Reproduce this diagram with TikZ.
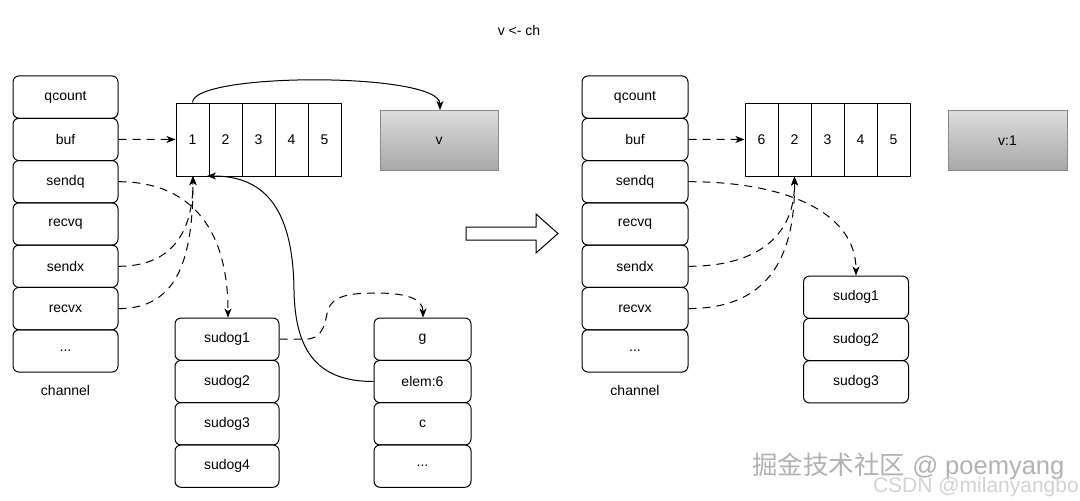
\documentclass[tikz,border=0pt]{standalone}
\usepackage{fontspec}
\setmainfont{Liberation Sans}
\newfontfamily\cjkfont{Noto Sans CJK SC}
\usetikzlibrary{arrows.meta}
\definecolor{vtop}{HTML}{DCDCDC}
\definecolor{vbot}{HTML}{A8A8A8}
\definecolor{vborder}{HTML}{8A8A8A}
\begin{document}
\begin{tikzpicture}[x=1pt,y=-1pt,
  every node/.style={font=\fontsize{14}{16}\selectfont, inner sep=0pt},
  field/.style={draw, rounded corners=6pt, line width=1pt, minimum width=105pt, minimum height=42.3pt},
  sudog/.style={draw, rounded corners=6pt, line width=1pt, minimum width=104pt, minimum height=42.3pt},
  gfield/.style={draw, rounded corners=6pt, line width=1pt, minimum width=97pt, minimum height=42.3pt},
  cell/.style={draw, line width=1pt, minimum width=33pt, minimum height=73pt},
  valbox/.style={draw=vborder, line width=1pt, top color=vtop, bottom color=vbot, minimum width=118pt, minimum height=60pt},
  dsh/.style={line width=1pt, dash pattern=on 8pt off 6pt, -{Stealth[length=9pt,width=7pt,inset=2.5pt]}},
  sld/.style={line width=1pt, -{Stealth[length=9pt,width=7pt,inset=2.5pt]}},
  lbl/.style={font=\fontsize{14}{16}\selectfont}
]
\useasboundingbox (0,0) rectangle (1080,501);

% title
\node[lbl] (title) at (519,30) {v <- ch};

% ---------------- left panel ----------------
\node[field] (lq) at (65.5,97.1) {qcount};
\node[field] (lbuf) at (65.5,139.4) {buf};
\node[field] (lsq) at (65.5,181.7) {sendq};
\node[field] (lrq) at (65.5,224.0) {recvq};
\node[field] (lsx) at (65.5,266.3) {sendx};
\node[field] (lrx) at (65.5,308.6) {recvx};
\node[field] (ldots) at (65.5,350.9) {...};
\node[lbl] (lch) at (65.5,390) {channel};

\node[cell] (la1) at (192.5,139.5) {1};
\node[cell] (la2) at (225.5,139.5) {2};
\node[cell] (la3) at (258.5,139.5) {3};
\node[cell] (la4) at (291.5,139.5) {4};
\node[cell] (la5) at (324.5,139.5) {5};

\node[valbox] (lv) at (439,140.5) {v};

\node[sudog] (ls1) at (227,339.2) {sudog1};
\node[sudog] (ls2) at (227,381.5) {sudog2};
\node[sudog] (ls3) at (227,423.8) {sudog3};
\node[sudog] (ls4) at (227,466.1) {sudog4};

\node[gfield] (gg) at (422.5,339.2) {g};
\node[gfield] (ge) at (422.5,381.5) {elem:6};
\node[gfield] (gc) at (422.5,423.8) {c};
\node[gfield] (gd) at (422.5,466.1) {...};

\coordinate (la1b) at (193,176);
\coordinate (la1br) at (207,176);

\draw[sld] (la1.north) .. controls (193,72) and (440,72) .. (lv.north -| 440,0);
\draw[dsh] (lbuf.east) -- (la1.west);
\draw[dsh] (lsq.east) .. controls (185,181.7) and (228,222) .. (ls1.north -| 228,0);
\draw[dsh] (lsx.east) .. controls (172,266.3) and (193,232) .. (la1b);
\draw[dsh] (lrx.east) .. controls (176,308.6) and (193,262) .. (la1b);
\draw[sld] (ge.west) .. controls (318,381.5) and (295,352) .. (294,290) .. controls (293,205) and (262,176) .. (la1br);
\draw[dsh] (ls1.east) -- (305,339.2) .. controls (325,339.2) and (325,320) .. (328,310) .. controls (332,296) and (350,293) .. (375,293) .. controls (405,293) and (423,298) .. (gg.north -| 423,0);

% ---------------- big hollow arrow ----------------
\draw[line width=1pt, fill=white] (466,227) -- (536,227) -- (536,214) -- (558,233.5) -- (536,253) -- (536,240) -- (466,240) -- cycle;

% ---------------- right panel ----------------
\node[field, minimum width=106pt] (rq) at (635,97.1) {qcount};
\node[field, minimum width=106pt] (rbuf) at (635,139.4) {buf};
\node[field, minimum width=106pt] (rsq) at (635,181.7) {sendq};
\node[field, minimum width=106pt] (rrq) at (635,224.0) {recvq};
\node[field, minimum width=106pt] (rsx) at (635,266.3) {sendx};
\node[field, minimum width=106pt] (rrx) at (635,308.6) {recvx};
\node[field, minimum width=106pt] (rdots) at (635,350.9) {...};
\node[lbl] (rch) at (635,390) {channel};

\node[cell] (ra1) at (761.5,139.5) {6};
\node[cell] (ra2) at (794.5,139.5) {2};
\node[cell] (ra3) at (827.5,139.5) {3};
\node[cell] (ra4) at (860.5,139.5) {4};
\node[cell] (ra5) at (893.5,139.5) {5};

\node[valbox, minimum width=119pt] (rv) at (1007.5,140.5) {v:1};

\node[sudog, minimum width=105pt] (rs1) at (856,297.2) {sudog1};
\node[sudog, minimum width=105pt] (rs2) at (856,339.5) {sudog2};
\node[sudog, minimum width=105pt] (rs3) at (856,381.8) {sudog3};

\draw[dsh] (rbuf.east) -- (ra1.west);
\draw[dsh] (rsq.east) .. controls (785,181.7) and (856,212) .. (rs1.north);
\draw[dsh] (rsx.east) .. controls (762,266.3) and (795,232) .. (ra2.south);
\draw[dsh] (rrx.east) .. controls (772,308.6) and (795,252) .. (ra2.south);

% ---------------- watermarks ----------------
\node[font=\fontsize{25.5}{28}\selectfont, text=gray!60, anchor=west] (wm1) at (752,466) {{\cjkfont 掘金技术社区} @ poemyang};
\node[font=\fontsize{21}{23}\selectfont, text=gray!35, anchor=east] (wm2) at (1079,487) {CSDN @milanyangbo};
\end{tikzpicture}
\end{document}
